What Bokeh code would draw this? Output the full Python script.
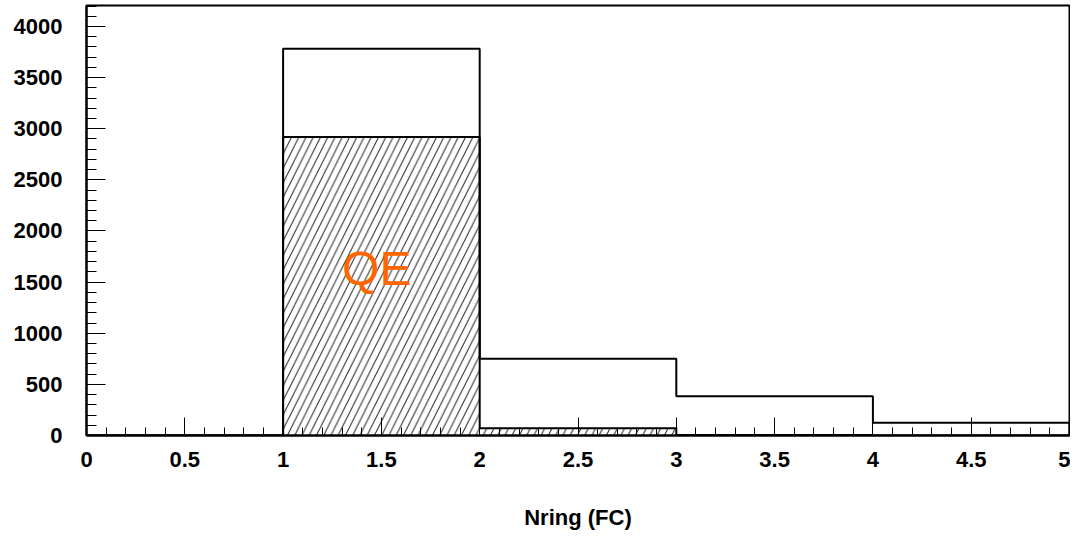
from bokeh.plotting import figure
from bokeh.models import Range1d, SingleIntervalTicker, NumeralTickFormatter
from bokeh.core.properties import value
from bokeh.embed import file_html
from bokeh.resources import INLINE
import numpy as np

# Data
bin_edges = [0, 1, 2, 3, 4, 5]
all_counts = [0, 3782, 750, 385, 125]
qe_counts = [0, 2918, 72, 4, 0]
x_title = "Nring (FC)"
annotation_text = ["QE"]
annotation_x = [1.3]
annotation_y = [1630]

FONT = "Liberation Sans"

p = figure(width=1070, height=532, output_backend="svg", toolbar_location=None,
           x_range=Range1d(0, 5), y_range=Range1d(0, 4205),
           min_border_left=86, min_border_right=1, min_border_top=5, min_border_bottom=96)
p.xgrid.visible = False
p.ygrid.visible = False
p.outline_line_color = "black"
p.outline_line_width = 2
p.background_fill_color = "white"
p.border_fill_color = "white"

edges = np.array(bin_edges, dtype=float)

# hatched QE histogram
p.quad(left=edges[:-1], right=edges[1:], bottom=0, top=qe_counts,
       fill_color=None, line_color=None,
       hatch_pattern="/", hatch_color="#222222", hatch_weight=1, hatch_scale=14.5)

def step_xy(counts):
    xs = [edges[0]]
    ys = [0.0]
    for i, c in enumerate(counts):
        xs += [edges[i], edges[i + 1]]
        ys += [c, c]
    xs.append(edges[-1])
    ys.append(0.0)
    return xs, ys

qx, qy = step_xy(qe_counts)
p.line(qx, qy, line_color="black", line_width=2)
ax, ay = step_xy(all_counts)
p.line(ax, ay, line_color="black", line_width=2)

p.text(x=annotation_x, y=annotation_y, text=annotation_text,
       text_font=value(FONT), text_font_size="48px", text_color="#ff6600",
       text_align="left", text_baseline="alphabetic")

# axes
xa = p.xaxis[0]
xa.ticker = SingleIntervalTicker(interval=0.5, num_minor_ticks=5)
xa.formatter = NumeralTickFormatter(format="0.[0]")
xa.major_tick_in = 18
xa.major_tick_out = 0
xa.minor_tick_in = 8
xa.minor_tick_out = 0
xa.axis_line_width = 2
xa.major_tick_line_width = 1
xa.minor_tick_line_width = 1
xa.major_label_text_font = FONT
xa.major_label_text_font_style = "bold"
xa.major_label_text_font_size = "22px"
xa.major_label_text_color = "black"
xa.major_label_standoff = 16
xa.axis_label = x_title
xa.axis_label_text_font = FONT
xa.axis_label_text_font_style = "bold"
xa.axis_label_text_font_size = "22px"
xa.axis_label_text_color = "black"
xa.axis_label_standoff = 35

ya = p.yaxis[0]
ya.ticker = SingleIntervalTicker(interval=500, num_minor_ticks=5)
ya.formatter = NumeralTickFormatter(format="0")
ya.major_tick_in = 19
ya.major_tick_out = 0
ya.minor_tick_in = 10
ya.minor_tick_out = 0
ya.axis_line_width = 2
ya.major_label_text_font = FONT
ya.major_label_text_font_style = "bold"
ya.major_label_text_font_size = "22px"
ya.major_label_text_color = "black"
ya.major_label_standoff = 24

open("out.html", "w").write(file_html(p, INLINE))
